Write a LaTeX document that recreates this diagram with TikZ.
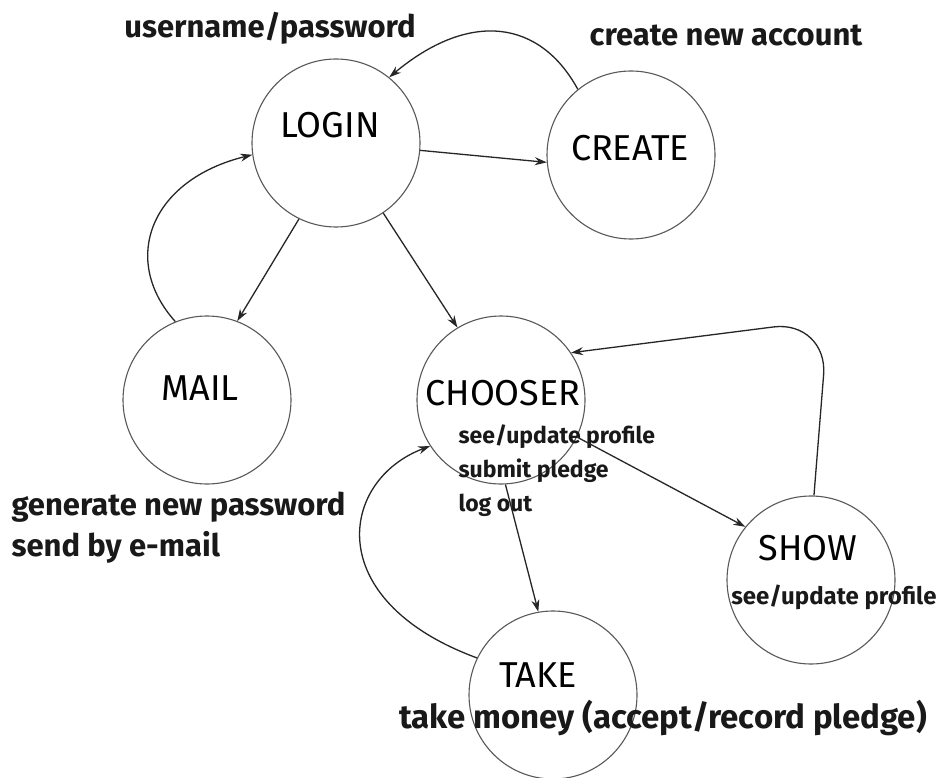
\documentclass[tikz,border=0pt]{standalone}
\usepackage{fontspec}
\setmainfont{Fira Sans}
\usetikzlibrary{arrows.meta}
\begin{document}
\begin{tikzpicture}[x=1pt,y=-1pt,
  state/.style={circle,draw=black!65,line width=1.1pt,minimum size=168pt,inner sep=0pt},
  title/.style={font=\fontsize{36}{38}\selectfont,text=black},
  note/.style={font=\fontsize{31}{34}\selectfont\bfseries,text=black!90},
  subnote/.style={font=\fontsize{23}{34}\selectfont\bfseries,text=black!90,align=left},
  flow/.style={draw=black!85,line width=1.3pt,-{Stealth[length=12pt,width=8pt]}}]
\useasboundingbox (0,0) rectangle (942,778);
\fill[white] (0,0) rectangle (942,778);

% states
\node[state] (login)   at (336,143) {};
\node[state] (create)  at (631,155) {};
\node[state] (mail)    at (207,400) {};
\node[state] (chooser) at (501,400) {};
\node[state] (show)    at (811,580) {};
\node[state] (take)    at (553,695) {};

% state names
\node[title] (tlogin)   at (330,125) {LOGIN};
\node[title] (tcreate)  at (630,148) {CREATE};
\node[title] (tmail)    at (200,388) {MAIL};
\node[title] (tchooser) at (503,393) {CHOOSER};
\node[title] (tshow)    at (808,548) {SHOW};
\node[title] (ttake)    at (538,675) {TAKE};

% descriptions
\node[note] (nlogin)  at (270,28) {username/password};
\node[note] (ncreate) at (726,35) {create new account};
\node[note,align=left,anchor=west,font=\fontsize{31}{41}\selectfont\bfseries] (nmail) at (8,528)
  {generate new password\\send by e-mail};
\node[subnote,anchor=west] (nchooser) at (455,471)
  {see/update profile\\submit pledge\\log out};
\node[note,anchor=east,font=\fontsize{24}{28}\selectfont\bfseries] (nshow) at (940,597) {see/update profile};
\node[note,font=\fontsize{33}{36}\selectfont\bfseries] (ntake) at (663,718) {take money (accept/record pledge)};

% transitions
\draw[flow] (login.-5) -- (create.185);
\draw[flow] (create.129) .. controls (540,20) and (470,10) .. (login.51);
\draw[flow] (login.-116) -- (mail.69);
\draw[flow] (login.-56) -- (chooser.121);
\draw[flow] (mail.112) .. controls (120,260) and (150,180) .. (login.188);
\draw[flow] (chooser.-26) -- (show.141);
\draw[flow,rounded corners=55pt] (show.88) -- (828,320) -- (chooser.34);
\draw[flow] (chooser.-87) -- (take.100);
\draw[flow] (take.154) .. controls (320,600) and (340,480) .. (chooser.213);
\end{tikzpicture}
\end{document}
